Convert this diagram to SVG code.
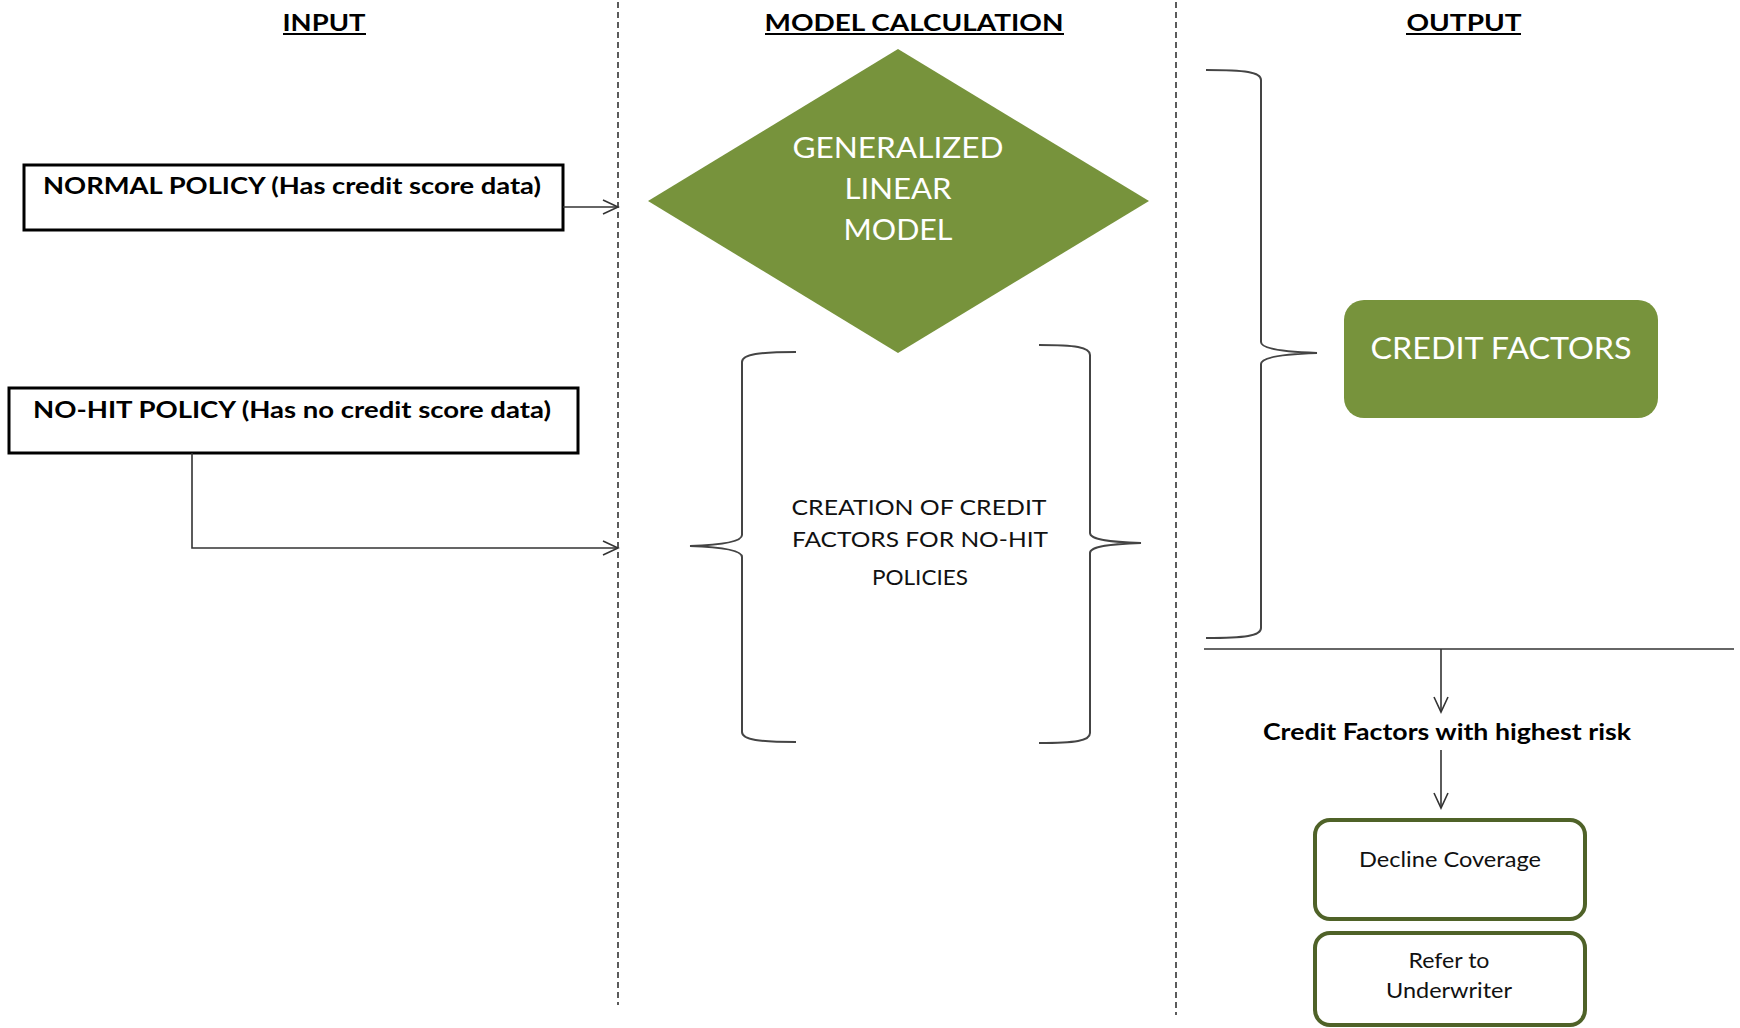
<svg xmlns="http://www.w3.org/2000/svg" width="1740" height="1028" viewBox="0 0 1740 1028">
<defs>
<marker id="arr" markerUnits="userSpaceOnUse" markerWidth="18" markerHeight="18" viewBox="0 0 18 18" refX="16" refY="9" orient="auto">
<path d="M1,2 L16,9 L1,16" fill="none" stroke="#333" stroke-width="1.6"/>
</marker>
<style>
text{font-family:Lato,"Liberation Sans",sans-serif;}
.hdr{font-size:22px;font-weight:bold;fill:#000;}
.ul{stroke:#000;stroke-width:2;}
.bx{fill:#fff;stroke:#000;stroke-width:3;}
.bt{font-size:22px;font-weight:bold;fill:#000;}
.wt{fill:#fff;}
.green{fill:#77933C;}
.gb{fill:#fff;stroke:#4F6228;stroke-width:4;}
.rt{font-size:22px;fill:#111;}
.con{fill:none;stroke:#333;stroke-width:1.6;}
.brace{fill:none;stroke:#444;stroke-width:2;}
.dash{stroke:#333;stroke-width:1.6;stroke-dasharray:6 4;}
</style>
</defs>

<g id="lanes">
<line class="dash" x1="618" y1="2" x2="618" y2="1005"/>
<line class="dash" x1="1176" y1="2" x2="1176" y2="1015"/>
</g>

<g id="headers">
<text class="hdr" x="324" y="31" text-anchor="middle" textLength="83" lengthAdjust="spacingAndGlyphs">INPUT</text>
<line class="ul" x1="283" y1="34" x2="366" y2="34"/>
<text class="hdr" x="914" y="31" text-anchor="middle" textLength="299" lengthAdjust="spacingAndGlyphs">MODEL CALCULATION</text>
<line class="ul" x1="765" y1="34" x2="1064" y2="34"/>
<text class="hdr" x="1464" y="31" text-anchor="middle" textLength="115" lengthAdjust="spacingAndGlyphs">OUTPUT</text>
<line class="ul" x1="1406" y1="34" x2="1521" y2="34"/>
</g>

<g id="normal-policy">
<rect class="bx" x="24" y="165" width="539" height="65"/>
<text class="bt" x="43" y="194" textLength="498" lengthAdjust="spacingAndGlyphs">NORMAL POLICY (Has credit score data)</text>
</g>

<g id="nohit-policy">
<rect class="bx" x="9" y="388" width="569" height="65"/>
<text class="bt" x="33" y="418" textLength="518" lengthAdjust="spacingAndGlyphs">NO-HIT POLICY (Has no credit score data)</text>
</g>

<g id="glm">
<polygon class="green" points="898,49 1149,201 898,353 648,201"/>
<text class="wt" x="898" y="158" font-size="28" text-anchor="middle" textLength="211" lengthAdjust="spacingAndGlyphs">GENERALIZED</text>
<text class="wt" x="898" y="199" font-size="28" text-anchor="middle" textLength="107" lengthAdjust="spacingAndGlyphs">LINEAR</text>
<text class="wt" x="898" y="240" font-size="28" text-anchor="middle" textLength="109" lengthAdjust="spacingAndGlyphs">MODEL</text>
</g>

<g id="nohit-creation">
<path class="brace" d="M796,352 C760,352 742,354 742,362 L742,535 C742,542 720,545 690,546 C720,547 742,550 742,557 L742,732 C742,740 760,742 796,742"/>
<path class="brace" d="M1039,345 C1075,345 1090,347 1090,355 L1090,533 C1090,540 1112,542 1141,543 C1112,544 1090,546 1090,553 L1090,733 C1090,741 1075,743 1039,743"/>
<text class="rt" x="919" y="515" text-anchor="middle" textLength="255" lengthAdjust="spacingAndGlyphs">CREATION OF CREDIT</text>
<text class="rt" x="920" y="547" text-anchor="middle" textLength="256" lengthAdjust="spacingAndGlyphs">FACTORS FOR NO-HIT</text>
<text class="rt" x="920" y="585" text-anchor="middle" textLength="96" lengthAdjust="spacingAndGlyphs">POLICIES</text>
</g>

<g id="output-brace">
<path class="brace" d="M1206,70 C1245,70 1261,72 1261,80 L1261,342 C1261,349 1285,352 1317,353 C1285,354 1261,357 1261,364 L1261,628 C1261,636 1245,638 1206,638"/>
</g>

<g id="credit-factors">
<rect class="green" x="1344" y="300" width="314" height="118" rx="20" ry="20"/>
<text class="wt" x="1501" y="359" font-size="31" text-anchor="middle" textLength="261" lengthAdjust="spacingAndGlyphs">CREDIT FACTORS</text>
</g>

<g id="highest-risk">
<text class="bt" x="1447" y="740" text-anchor="middle" textLength="368" lengthAdjust="spacingAndGlyphs">Credit  Factors with highest risk</text>
</g>

<g id="decline">
<rect class="gb" x="1315" y="820" width="270" height="99" rx="15" ry="15"/>
<text class="rt" x="1450" y="867" text-anchor="middle" textLength="182" lengthAdjust="spacingAndGlyphs">Decline Coverage</text>
</g>

<g id="refer">
<rect class="gb" x="1315" y="933" width="270" height="92" rx="15" ry="15"/>
<text class="rt" x="1449" y="968" text-anchor="middle" textLength="81" lengthAdjust="spacingAndGlyphs">Refer to</text>
<text class="rt" x="1449" y="998" text-anchor="middle" textLength="126" lengthAdjust="spacingAndGlyphs">Underwriter</text>
</g>

<g id="connectors">
<line class="con" x1="563" y1="207" x2="618" y2="207" marker-end="url(#arr)"/>
<polyline class="con" points="192,453 192,548 618,548" marker-end="url(#arr)"/>
<line class="con" x1="1204" y1="649" x2="1734" y2="649"/>
<line class="con" x1="1441" y1="649" x2="1441" y2="712" marker-end="url(#arr)"/>
<line class="con" x1="1441" y1="750" x2="1441" y2="808" marker-end="url(#arr)"/>
</g>
</svg>
